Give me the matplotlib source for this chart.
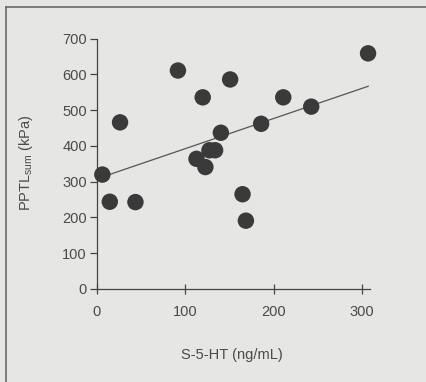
import matplotlib
matplotlib.use("Agg")
import matplotlib.pyplot as plt
from matplotlib.lines import Line2D
import numpy as np

plt.rcParams['font.family'] = ['Liberation Sans', 'DejaVu Sans']
plt.rcParams['mathtext.fontset'] = 'custom'
plt.rcParams['mathtext.rm'] = 'Liberation Sans'
plt.rcParams['mathtext.it'] = 'Liberation Sans'

s5ht = [6.6, 15, 26.6, 44, 92, 113, 120, 123, 127.6, 134, 140.5, 151, 165, 168.8, 186, 211, 242.6, 306.8]
pptl = [320, 244, 466, 243, 611, 364, 536, 341, 388, 388, 437, 586, 265, 191, 462, 536, 510, 659]
fit_x = [5, 307]
fit_y = [312, 567]
xticks = [0, 100, 200, 300]
yticks = [0, 100, 200, 300, 400, 500, 600, 700]

bg = '#e6e6e4'
tc = '#4a4a4a'
fig = plt.figure(figsize=(4.27, 3.82), dpi=100, facecolor=bg)
ax = fig.add_axes([0.226, 0.2435, 0.6405, 0.6552], facecolor=bg)

ax.plot(fit_x, fit_y, color='#555555', lw=0.9, zorder=2)
ax.scatter(s5ht, pptl, s=140, color='#3a3a3a', edgecolors='none', zorder=3, clip_on=False)

ax.set_xlim(0, 309)
ax.set_ylim(0, 700)
ax.set_xticks(xticks)
ax.set_yticks(yticks)
for s in ['top', 'right']:
    ax.spines[s].set_visible(False)
for s in ['left', 'bottom']:
    ax.spines[s].set_color('#444444')
    ax.spines[s].set_linewidth(0.9)
ax.tick_params(axis='y', direction='out', length=5, width=0.9, color='#444444', labelcolor=tc, labelsize=10.5, pad=2)
ax.tick_params(axis='x', direction='inout', length=7, width=0.9, color='#444444', labelcolor=tc, labelsize=10.5, pad=8)

fig.text(232/427, 1 - 355/382, 'S-5-HT (ng/mL)', ha='center', va='center', fontsize=10.5, color=tc)
fig.text(26/427, 1 - 163/382, r'PPTL$_{\mathrm{sum}}$ (kPa)', ha='center', va='center', rotation=90, fontsize=10.5, color=tc)

# frame lines
fig.add_artist(Line2D([6.5/427, 6.5/427], [0, 1 - 7/382], transform=fig.transFigure, color='#6a6a6a', lw=1.2))
fig.add_artist(Line2D([6.5/427, 1], [1 - 7/382, 1 - 7/382], transform=fig.transFigure, color='#6a6a6a', lw=1.2))

fig.savefig('out.png', dpi=100, facecolor=bg)
